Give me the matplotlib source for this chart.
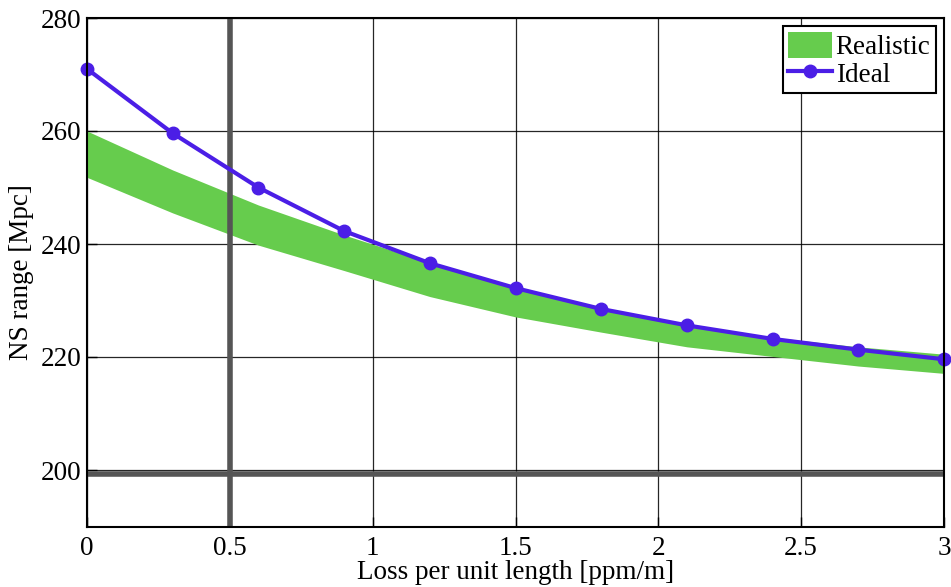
import matplotlib
matplotlib.use("Agg")
import matplotlib.pyplot as plt
from matplotlib.patches import Patch
from matplotlib.lines import Line2D

plt.rcParams['font.family'] = ['Liberation Serif', 'DejaVu Serif']
plt.rcParams['mathtext.fontset'] = 'stix'

# loss per unit length [ppm/m]
loss = [0, 0.3, 0.6, 0.9, 1.2, 1.5, 1.8, 2.1, 2.4, 2.7, 3.0]
# ideal NS range [Mpc]
ideal = [271.0, 259.6, 250.0, 242.3, 236.6, 232.2, 228.5, 225.6, 223.2, 221.3, 219.6]
# realistic band
real_hi = [260.0, 253.1, 246.9, 241.6, 236.7, 232.2, 228.7, 225.8, 223.5, 221.8, 220.5]
real_lo = [251.8, 245.5, 239.8, 235.3, 230.7, 227.1, 224.4, 221.8, 220.1, 218.4, 217.1]

xticks = [0, 0.5, 1, 1.5, 2, 2.5, 3]
xticklabels = ['0', '0.5', '1', '1.5', '2', '2.5', '3']
yticks = [200, 220, 240, 260, 280]

green = '#66cc4d'
blue = '#4b1ee6'
fs = 19.5

fig = plt.figure(figsize=(9.51, 5.87), dpi=100)
ax = fig.add_axes([87 / 951, 1 - 526.5 / 587, (944 - 87) / 951, (526.5 - 18) / 587])

ax.fill_between(loss, real_lo, real_hi, color=green, lw=0, zorder=2)
ax.plot(loss, ideal, color=blue, lw=3, marker='o', ms=9, zorder=3, clip_on=False)

# reference lines
ax.axvline(0.5, color='#555555', lw=4, zorder=2.5)
ax.axhline(199.3, color='#555555', lw=4, zorder=2.5)

ax.set_xlim(0, 3)
ax.set_ylim(190, 280)
ax.set_xticks(xticks)
ax.set_xticklabels(xticklabels)
ax.set_yticks(yticks)
ax.grid(True, color='black', lw=0.9, alpha=0.85, zorder=1)
ax.set_axisbelow(True)
ax.tick_params(direction='in', length=7, width=1, labelsize=fs)
ax.tick_params(axis='x', pad=7)
ax.tick_params(axis='y', pad=4)
for s in ax.spines.values():
    s.set_linewidth(1.5)
    s.set_zorder(4)

ax.set_xlabel('Loss per unit length [ppm/m]', fontsize=fs, labelpad=-1)
ax.set_ylabel('NS range [Mpc]', fontsize=fs, labelpad=5)

handles = [Patch(facecolor=green, edgecolor='none'),
           Line2D([], [], color=blue, lw=3, marker='o', ms=9)]
leg = ax.legend(handles, ['Realistic', 'Ideal'], loc='upper right', fontsize=fs,
                frameon=True, fancybox=False, edgecolor='black', framealpha=1,
                borderaxespad=0.3, handlelength=1.6, handleheight=1.1,
                handletextpad=0.15, labelspacing=0.0, borderpad=0.2)
leg.get_frame().set_linewidth(1.5)
leg.set_zorder(5)

fig.savefig('out.png', dpi=100)
